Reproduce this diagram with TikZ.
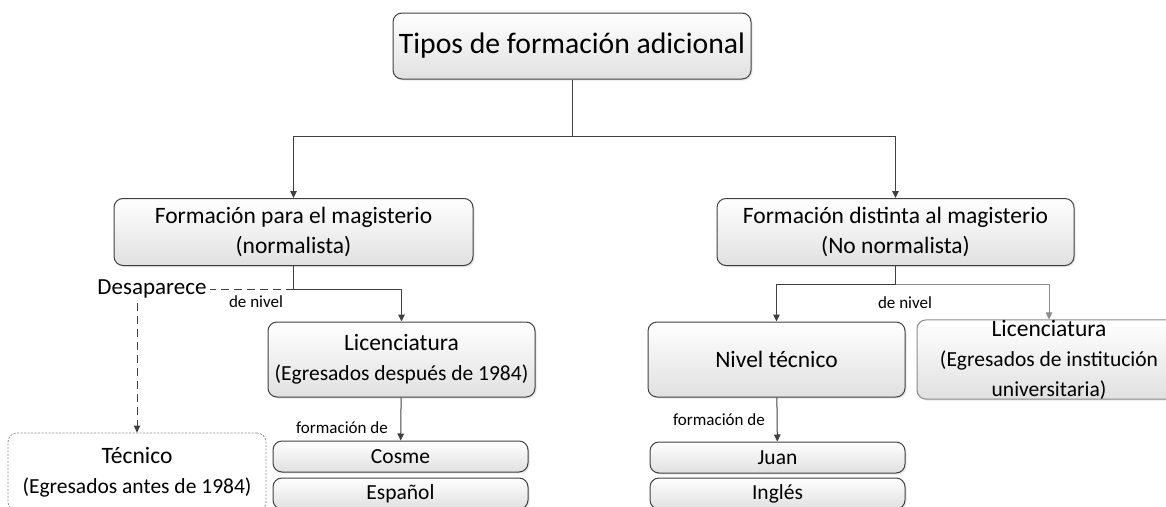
\documentclass[tikz,border=0pt]{standalone}
\usepackage{fontspec}
\setmainfont{Carlito}
\usetikzlibrary{arrows.meta, shadows}
\definecolor{edgegray}{RGB}{64,64,64}
\definecolor{softgray}{RGB}{140,140,140}
\newcommand{\subline}{\fontsize{21.5}{26}\selectfont}
\tikzset{
  box/.style={draw=edgegray, line width=1pt, rounded corners=9pt, top color=white, bottom color=black!12,
    drop shadow={shadow xshift=1.5pt, shadow yshift=-1.5pt, opacity=.2}, align=center, inner sep=0pt,
    font=\fontsize{23.5}{30}\selectfont},
  bar/.style={box, minimum width=255pt, minimum height=31pt, font=\fontsize{21.5}{24}\selectfont},
  link/.style={draw=edgegray, line width=1pt},
  tip/.style={-{Triangle[length=7pt,width=6.5pt]}},
  tag/.style={font=\fontsize{17}{19}\selectfont, inner sep=0pt},
}

\begin{document}
\begin{tikzpicture}[x=1pt, y=-1pt]
\useasboundingbox (0,0) rectangle (1166,506);

% cajas
\node[box, minimum width=358pt, minimum height=66pt, font=\fontsize{29.7}{34}\selectfont] (tipos) at (572,46) {Tipos de formación adicional};
\node[box, minimum width=359pt, minimum height=67pt] (norm) at (293.5,232) {Formación para el magisterio\\(normalista)};
\node[box, minimum width=357pt, minimum height=67pt] (nonorm) at (895.5,232) {Formación distinta al magisterio\\(No normalista)};
\node[box, minimum width=267pt, minimum height=75pt] (lic1) at (401.5,359.5) {Licenciatura\\\subline(Egresados después de 1984)};
\node[box, minimum width=257pt, minimum height=75pt] (nivtec) at (776.5,359.5) {Nivel técnico};
\node[box, draw=softgray, minimum width=264pt, minimum height=75pt] (lic2) at (1049,359.5) {Licenciatura\\\subline(Egresados de institución\\\subline universitaria)};
\node[bar] (cosme) at (400.5,456.5) {Cosme};
\node[bar] (espanol) at (400.5,493.5) {Español};
\node[bar] (juan) at (777.5,457.5) {Juan};
\node[bar] (ingles) at (777.5,493.5) {Inglés};
\node[draw=softgray, line width=.8pt, dash pattern=on 2pt off 1.5pt, rounded corners=9pt, fill=white,
  minimum width=258pt, minimum height=78pt, align=center, inner sep=0pt, font=\fontsize{23.5}{30}\selectfont]
  (tecnico) at (137,472) {Técnico\\\subline(Egresados antes de 1984)};
\node[font=\fontsize{23}{26}\selectfont, inner sep=0pt] (desap) at (152,289) {Desaparece};

% uniones
\coordinate (top) at (572,136);
\coordinate (lsplit) at (293.5,289);
\coordinate (rsplit) at (895.5,284);
\draw[link] (tipos) -- (top);
\draw[link, tip] (top) -| (norm.north);
\draw[link, tip] (top) -| (nonorm.north);
\draw[link] (norm) -- (lsplit);
\draw[link, tip] (lsplit) -| (lic1.north);
\draw[link, dash pattern=on 8pt off 5pt] (lsplit) -- ([xshift=3pt]desap.east);
\draw[link, tip, dash pattern=on 8pt off 5pt] (desap.south -| tecnico.north) ++(0,5) -- (tecnico.north);
\draw[link] (nonorm) -- (rsplit);
\draw[link, tip] (rsplit) -| (nivtec.north);
\draw[link, draw=softgray, tip] (rsplit) -| (lic2.north);
\draw[link, tip] (lic1) -- (cosme);
\draw[link, tip] (nivtec) -- (juan);

% etiquetas
\node[tag] (nivel1) at (256,302) {de nivel};
\node[tag] (nivel2) at (905,303) {de nivel};
\node[tag, anchor=east] (form1) at (388,428) {formación de};
\node[tag, anchor=east] (form2) at (765,420) {formación de};
\end{tikzpicture}
\end{document}
